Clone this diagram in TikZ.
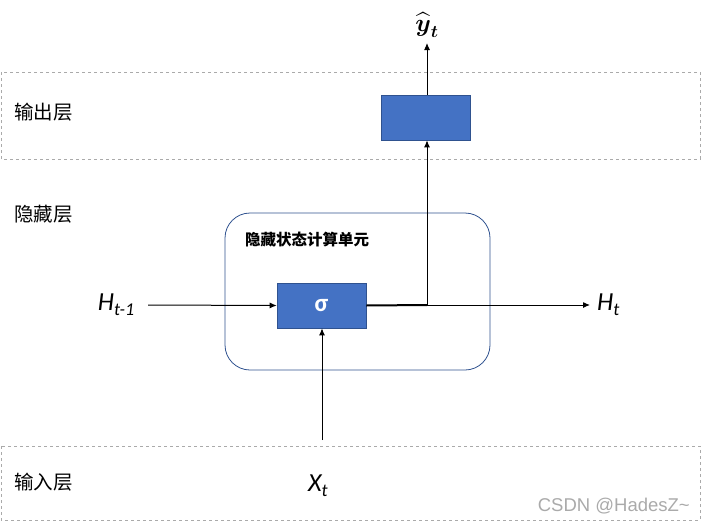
\documentclass[tikz,border=0pt]{standalone}
\usepackage{amsmath}
\usepackage{fontspec}
\setmainfont{Carlito}
\newfontfamily\cjk{Noto Sans CJK SC}
\newfontfamily\wm{Liberation Sans}
\usetikzlibrary{arrows.meta}
\definecolor{boxblue}{RGB}{68,114,196}
\definecolor{framegray}{RGB}{170,170,170}
\definecolor{unitblue}{RGB}{47,82,143}
\tikzset{
  x=1pt, y=-1pt,
  layer/.style={draw=framegray, dashed, line width=0.8pt},
  bluebox/.style={draw=unitblue, fill=boxblue, line width=0.6pt, minimum width=89pt, minimum height=45pt, inner sep=0pt},
  arr/.style={-{Latex[length=7pt,width=6pt]}, line width=1pt},
  layerlabel/.style={font=\cjk\fontsize{19.5}{19.5}\selectfont, anchor=west, inner sep=0pt},
  mathlbl/.style={font=\fontsize{26}{26}\selectfont\itshape, inner sep=0pt}
}
\begin{document}
\begin{tikzpicture}
\useasboundingbox (0,0) rectangle (701,522);
% layers
\draw[layer] (1,72) rectangle (700,159);
\draw[layer] (1,446) rectangle (700,520);
\node[layerlabel] (outl) at (14,112) {输出层};
\node[layerlabel] (hidl) at (14,214) {隐藏层};
\node[layerlabel] (inl) at (14,482) {输入层};
% hidden unit
\draw[draw=unitblue, line width=0.8pt, rounded corners=25pt] (225,213) rectangle (490,370);
\node[font=\cjk\fontsize{15.5}{15.5}\selectfont, anchor=west, inner sep=0pt] (unitlbl) at (245,240) {\textbf{隐藏状态计算单元}};
% boxes
\node[bluebox] (sigma) at (321.5,305.5) {\textcolor{white}{\fontsize{25}{25}\selectfont\bfseries σ}};
\node[bluebox] (outbox) at (425.5,117.5) {};
% labels
\node[mathlbl] (hprev) at (116,305) {H\raisebox{-5pt}{\fontsize{18}{18}\selectfont t-1}};
\node[mathlbl, anchor=west] (hnext) at (597,305) {H\raisebox{-5pt}{\fontsize{18}{18}\selectfont t}};
\node[mathlbl] (xt) at (318,486) {X\raisebox{-5pt}{\fontsize{18}{18}\selectfont t}};
\node[inner sep=0pt, font=\fontsize{27}{27}\selectfont] (yhat) at (427,25) {$\widehat{\boldsymbol{y}}_{\boldsymbol{t}}$};
\coordinate (yend) at (427,43);
\coordinate (join) at (427,305);
\coordinate (hend) at (590,305);
\coordinate (xstart) at (322,440);
\coordinate (hstart) at (148,305);
% connectors
\draw[arr] (hstart) -- (sigma.west);
\draw[line width=2pt] (sigma.east) -- (join);
\draw[arr] (join) -- (hend);
\draw[arr] (join) -- (outbox.south -| join);
\draw[arr] (outbox.north -| join) -- (yend);
\draw[arr] (xstart) -- (sigma.south -| xstart);
% watermark
\node[font=\wm\fontsize{18.5}{18.5}\selectfont, text=framegray, anchor=east, inner sep=0pt] (wmark) at (690,506) {CSDN @HadesZ\textasciitilde};
\end{tikzpicture}
\end{document}
